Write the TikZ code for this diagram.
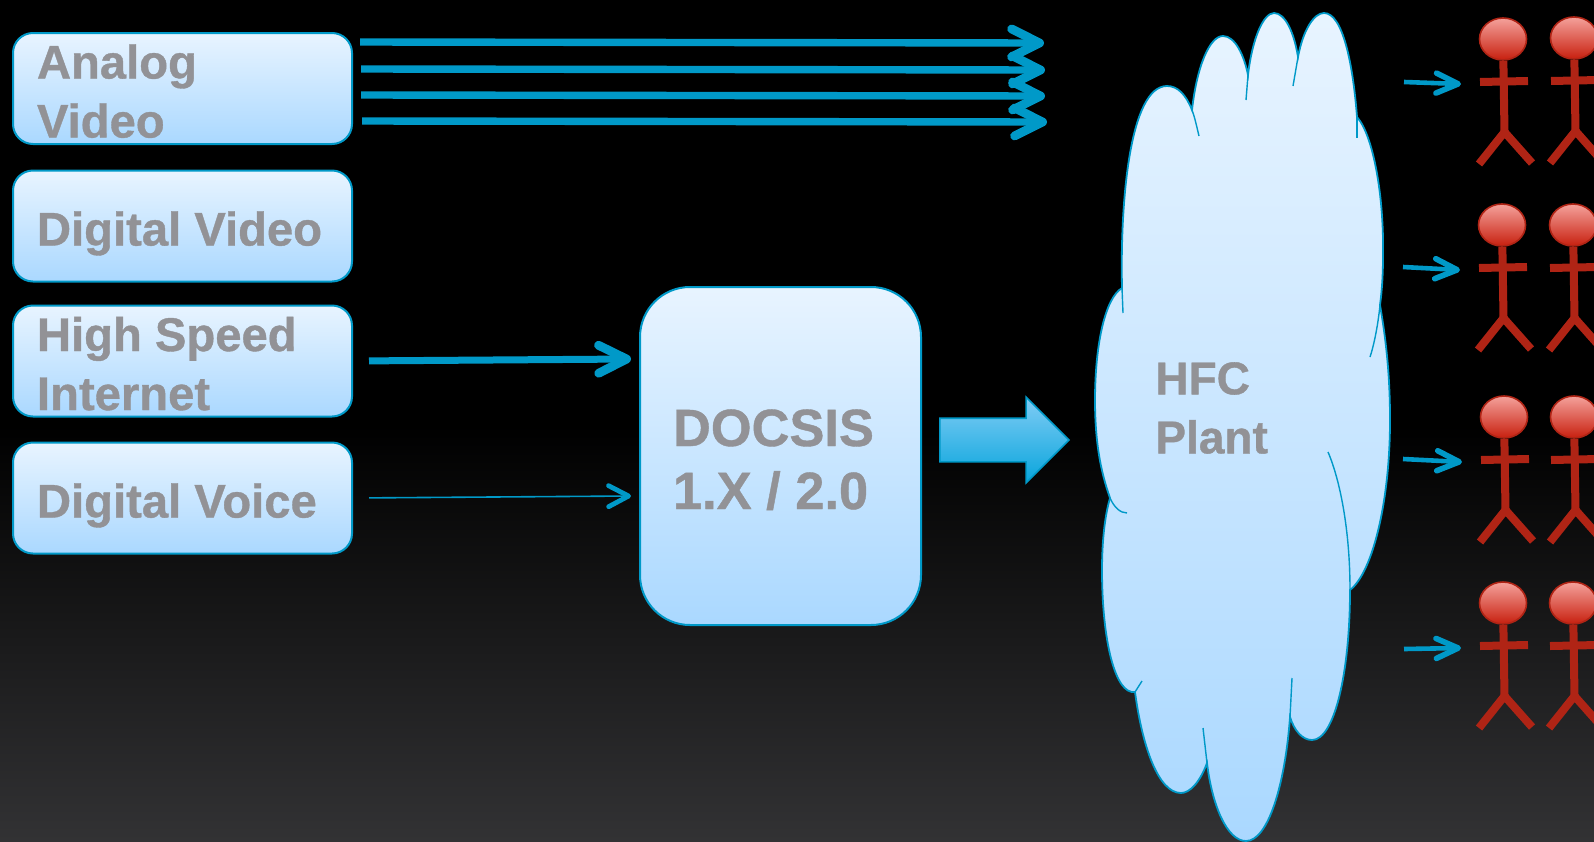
\documentclass[tikz,border=0pt]{standalone}
\usepackage{fontspec}
\setmainfont[BoldFeatures={FakeBold=0.8}]{Liberation Sans}
\usepackage{xcolor}
\usetikzlibrary{arrows.meta,shapes.geometric,shapes.arrows}
\definecolor{linecol}{HTML}{0099C8}
\definecolor{textcol}{HTML}{929296}
\definecolor{fillhi}{HTML}{E8F4FF}
\definecolor{filllo}{HTML}{AAD8FF}
\definecolor{bodycol}{HTML}{B02415}
\definecolor{headhi}{HTML}{F4A19B}
\definecolor{headlo}{HTML}{C8200F}
\definecolor{blockhi}{HTML}{80CCF5}
\definecolor{blocklo}{HTML}{08A5DC}
\definecolor{bgbot}{HTML}{323234}
\tikzset{
srcbox/.style={rectangle,rounded corners=10pt,draw=linecol,line width=1pt,top color=fillhi,bottom color=filllo,
  text=textcol,font=\fontsize{23.6}{29.5}\selectfont\bfseries,align=flush left,text width=145.5pt,minimum width=169.5pt,minimum height=55.5pt,inner xsep=12pt,inner ysep=0pt},
oneline/.style={text height=19.5pt,text depth=0pt},
twolines/.style={text height=0pt,text depth=10pt},
cmtsbox/.style={rectangle,rounded corners=25pt,draw=linecol,line width=1pt,top color=fillhi,bottom color=filllo,
  text=textcol,font=\fontsize{26.2}{31.5}\selectfont\bfseries,align=flush left,text width=107.5pt,minimum width=140.5pt,minimum height=169pt,inner xsep=16.5pt,inner ysep=0pt,twolines},
blockarrow/.style={single arrow,draw=linecol,line width=0.8pt,top color=blockhi,bottom color=blocklo,minimum height=64.5pt,minimum width=42pt,single arrow head extend=10.5pt,text height=21pt,text depth=0pt,inner sep=0pt},
cloudline/.style={draw=linecol,line width=0.9pt,top color=fillhi,bottom color=filllo},
cloudtail/.style={draw=linecol,line width=0.7pt},
fatarrow/.style={draw=linecol,line width=3.7pt,-{Straight Barb[round,line width=4.4pt,length=14pt,width=14pt]}},
midarrow/.style={draw=linecol,line width=3.5pt,-{Straight Barb[round,line width=4.4pt,length=14pt,width=14pt]}},
thinarrow/.style={draw=linecol,line width=0.8pt,-{Straight Barb[round,line width=2.4pt,length=10pt,width=10.5pt]}},
manarrow/.style={draw=linecol,line width=2.3pt,-{Straight Barb[round,line width=2.8pt,length=11pt,width=10pt]}},
manhead/.style={ellipse,draw=bodycol,line width=0.8pt,top color=headhi,bottom color=headlo,minimum width=23.5pt,minimum height=21pt,inner sep=0pt},
manbody/.style={draw=bodycol,line width=4pt},
}
\newcommand{\stickman}[3]{
\coordinate (#1hip) at (#2+1.5,#3+93);
\coordinate (#1arml) at (#2-23,#3+43);
\coordinate (#1armr) at (#2+25,#3+42);
\coordinate (#1legl) at (#2-24,#3+125);
\coordinate (#1legr) at (#2+29,#3+124);
\coordinate (#1in) at (#2-42,#3+45);
\node[manhead] at (#2,#3) (#1) {};
\draw[manbody] (#1) -- (#1hip);
\draw[manbody] (#1arml) -- (#1armr);
\draw[manbody] (#1legl) -- (#1hip) -- (#1legr);
}
\begin{document}
\begin{tikzpicture}[x=0.5pt,y=-0.5pt]
\clip (0,0) rectangle (1594,841);
\fill[black] (0,0) rectangle (1594,425);
\shade[top color=black,bottom color=bgbot] (0,425) rectangle (1594,841);
\node[srcbox,twolines] at (182.5,88.5) (analog) {Analog\\Video};
\node[srcbox,oneline] at (182.5,226) (digvideo) {Digital Video};
\node[srcbox,twolines] at (182.5,361) (hsi) {High Speed\\Internet};
\node[srcbox,oneline] at (182.5,498) (digvoice) {Digital Voice};
\node[cmtsbox] at (780.5,456) (docsis) {DOCSIS\\1.X / 2.0};
\node[blockarrow] at (993.5,440) (block) {};
\draw[cloudline] (1122,288)
  .. controls (1120,200) and (1130,86) .. (1167,86)
  .. controls (1178,86) and (1186,95) .. (1192,110)
  .. controls (1197,65) and (1210,36) .. (1223,36)
  .. controls (1235,36) and (1244,55) .. (1248,75)
  .. controls (1252,40) and (1263,13) .. (1274,13)
  .. controls (1285,13) and (1294,32) .. (1298,57)
  .. controls (1303,30) and (1314,13) .. (1324,13)
  .. controls (1343,13) and (1353,65) .. (1357,117)
  .. controls (1373,135) and (1384,195) .. (1383,255)
  .. controls (1383,275) and (1382,290) .. (1380,305)
  .. controls (1386,340) and (1390,375) .. (1390,420)
  .. controls (1390,500) and (1373,572) .. (1350,590)
  .. controls (1350,670) and (1335,740) .. (1312,740)
  .. controls (1302,740) and (1294,730) .. (1290,717)
  .. controls (1285,785) and (1268,841) .. (1246,841)
  .. controls (1227,841) and (1212,805) .. (1207,763)
  .. controls (1200,782) and (1190,793) .. (1181,793)
  .. controls (1158,793) and (1142,745) .. (1135,692)
  .. controls (1115,695) and (1102,640) .. (1102,570)
  .. controls (1102,540) and (1105,515) .. (1110,498)
  .. controls (1100,470) and (1095,440) .. (1095,400)
  .. controls (1095,345) and (1105,298) .. (1122,288) -- cycle;
\draw[cloudtail] (1192,110) .. controls (1195,118) and (1197,128) .. (1199,136);
\draw[cloudtail] (1122,288) -- (1123,313);
\draw[cloudtail] (1248,75) -- (1246,100);
\draw[cloudtail] (1298,57) -- (1293,86);
\draw[cloudtail] (1357,117) -- (1357,138);
\draw[cloudtail] (1380,305) .. controls (1378,325) and (1374,345) .. (1370,357);
\draw[cloudtail] (1328,452) .. controls (1340,480) and (1350,530) .. (1350,590);
\draw[cloudtail] (1290,717) -- (1292,678);
\draw[cloudtail] (1207,763) -- (1203,728);
\draw[cloudtail] (1135,692) -- (1142,681);
\draw[cloudtail] (1110,498) .. controls (1114,507) and (1120,513) .. (1127,513);
\node[anchor=west,text=textcol,font=\fontsize{23}{29.5}\selectfont\bfseries,align=flush left,inner sep=0pt] at (1155,408) (hfc) {HFC\\Plant};
\coordinate (a1) at (360,42);
\coordinate (a2) at (361,69);
\coordinate (a3) at (361,95);
\coordinate (a4) at (362,121);
\coordinate (b1) at (1044,43);
\coordinate (b2) at (1045,70);
\coordinate (b3) at (1045,96);
\coordinate (b4) at (1047,122);
\coordinate (c1) at (631,359);
\coordinate (c2) at (631,496);
\draw[fatarrow] (a1) -- (b1);
\draw[fatarrow] (a2) -- (b2);
\draw[fatarrow] (a3) -- (b3);
\draw[fatarrow] (a4) -- (b4);
\draw[midarrow,shorten <=8pt] (hsi.east) -- (c1);
\draw[thinarrow,shorten <=8pt] (digvoice.east) -- (c2);
\stickman{m1}{1503}{39}
\stickman{m2}{1574}{38}
\stickman{m3}{1502}{225}
\stickman{m4}{1573}{225}
\stickman{m5}{1504}{417}
\stickman{m6}{1574}{417}
\stickman{m7}{1503}{603}
\stickman{m8}{1573}{603}
\coordinate (r1) at (1404,82);
\coordinate (r2) at (1403,267);
\coordinate (r3) at (1403,459);
\coordinate (r4) at (1404,649);
\draw[manarrow] (r1) -- (m1in);
\draw[manarrow] (r2) -- (m3in);
\draw[manarrow] (r3) -- (m5in);
\draw[manarrow] (r4) -- (m7in);
\end{tikzpicture}
\end{document}
